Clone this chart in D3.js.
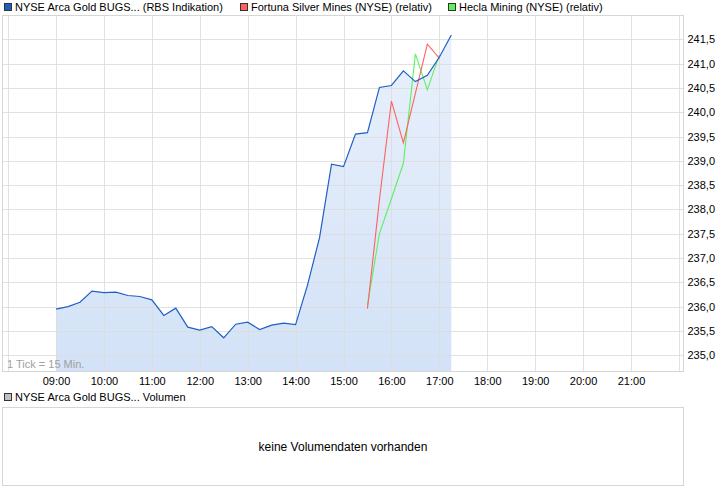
<!DOCTYPE html>
<html><head><meta charset="utf-8">
<script src="https://cdn.jsdelivr.net/npm/d3@7"></script>
<style>
html,body{margin:0;padding:0;background:#fff;}
svg{display:block;font-family:"Liberation Sans",Arial,sans-serif;}
</style></head>
<body><svg id="c" width="726" height="496"></svg>
<script>
// ---- data ----
const blueTimes = ["09:00","09:15","09:30","09:45","10:00","10:15","10:30","10:45","11:00","11:15","11:30","11:45",
  "12:00","12:15","12:30","12:45","13:00","13:15","13:30","13:45","14:00","14:15","14:30","14:45",
  "15:00","15:15","15:30","15:45","16:00","16:15","16:30","16:45","17:00","17:15"];
const blueValues = [235.95,236.00,236.09,236.32,236.29,236.30,236.23,236.21,236.14,235.82,235.97,235.58,
  235.52,235.59,235.36,235.64,235.68,235.53,235.62,235.66,235.63,236.45,237.42,238.93,
  238.88,239.55,239.58,240.51,240.55,240.85,240.63,240.76,241.13,241.59];
const relTimes = ["15:30","15:45","16:00","16:15","16:30","16:45","17:00"];
const redValues = [235.96,238.2,240.23,239.37,240.39,241.40,241.11];
const greenValues = [236.03,237.5,238.22,238.95,241.20,240.46,241.18];
const xTickLabels = ["09:00","10:00","11:00","12:00","13:00","14:00","15:00","16:00","17:00","18:00","19:00","20:00","21:00"];
const xGridHours = ["08:00","09:00","10:00","11:00","12:00","13:00","14:00","15:00","16:00","17:00","18:00","19:00","20:00","21:00","22:00"];
const yTicks = [235.0,235.5,236.0,236.5,237.0,237.5,238.0,238.5,239.0,239.5,240.0,240.5,241.0,241.5];
const legendLabels = ["NYSE Arca Gold BUGS... (RBS Indikation)","Fortuna Silver Mines (NYSE) (relativ)","Hecla Mining (NYSE) (relativ)"];
const volumeLegend = "NYSE Arca Gold BUGS... Volumen";
const volumeMessage = "keine Volumendaten vorhanden";
const tickNote = "1 Tick = 15 Min.";

// ---- helpers ----
const toMin = s => { const [h,m] = s.split(":").map(Number); return h*60+m; };

const svg = d3.select("#c");
const frame = {l:2.5, r:683.5, t:15.5, b:371.5};
const x = d3.scaleLinear().domain([toMin("08:00"), toMin("22:00")]).range([8.1, 678.9]);
const y = d3.scaleLinear().domain([235, 241.5]).range([355.3, 39.3]);
const gridColor = "#dcdcdc";

// gradient
const defs = svg.append("defs");
const grad = defs.append("linearGradient").attr("id","ag").attr("x1",0).attr("y1",0).attr("x2",0).attr("y2",1)
  .attr("gradientUnits","userSpaceOnUse").attr("y1",frame.t).attr("y2",frame.b).attr("x1",0).attr("x2",0);
grad.append("stop").attr("offset","0%").attr("stop-color","#eaf1fc");
grad.append("stop").attr("offset","100%").attr("stop-color","#d3e2f7");

// frame background
svg.append("rect").attr("x",frame.l).attr("y",frame.t).attr("width",frame.r-frame.l).attr("height",frame.b-frame.t)
  .attr("fill","#fff").attr("stroke","none");

const blue = blueTimes.map((t,i)=>({t:toMin(t), v:blueValues[i]}));
const red = relTimes.map((t,i)=>({t:toMin(t), v:redValues[i]}));
const green = relTimes.map((t,i)=>({t:toMin(t), v:greenValues[i]}));

// area
svg.append("path").datum(blue)
  .attr("d", d3.area().x(d=>x(d.t)).y0(frame.b).y1(d=>y(d.v)))
  .attr("fill","url(#ag)");

// vertical grid
const xGrid = svg.append("g").attr("transform",`translate(0,${frame.b})`)
  .call(d3.axisBottom(x).tickValues(xGridHours.map(toMin)).tickSize(-(frame.b-frame.t)).tickFormat(""));
xGrid.select(".domain").remove();
xGrid.selectAll("line").attr("stroke",gridColor).attr("stroke-opacity",0.85).attr("shape-rendering","crispEdges");

// horizontal grid
const yGrid = svg.append("g").attr("transform",`translate(${frame.r},0)`)
  .call(d3.axisLeft(y).tickValues(yTicks).tickSize(frame.r-frame.l).tickFormat(""));
yGrid.select(".domain").remove();
yGrid.selectAll("line").attr("stroke",gridColor).attr("stroke-opacity",0.85).attr("shape-rendering","crispEdges");

// frame border
svg.append("rect").attr("x",frame.l).attr("y",frame.t).attr("width",frame.r-frame.l).attr("height",frame.b-frame.t)
  .attr("fill","none").attr("stroke","#d6d6d6").attr("shape-rendering","crispEdges");

// lines
const line = d3.line().x(d=>x(d.t)).y(d=>y(d.v));
svg.append("path").datum(green).attr("d",line).attr("fill","none").attr("stroke","#5df05d").attr("stroke-width",1.1);
svg.append("path").datum(red).attr("d",line).attr("fill","none").attr("stroke","#ff6060").attr("stroke-width",1.1);
svg.append("path").datum(blue).attr("d",line).attr("fill","none").attr("stroke","#1f5fc4").attr("stroke-width",1.2);

// y labels
const yAx = svg.append("g").attr("transform",`translate(${frame.r+2},0)`)
  .call(d3.axisRight(y).tickValues(yTicks).tickSize(0).tickPadding(2)
    .tickFormat(d=>d3.format(".1f")(d).replace(".",",")));
yAx.select(".domain").remove();
yAx.selectAll("text").attr("font-size",11).attr("font-family","Liberation Sans, Arial, sans-serif").attr("fill","#000");

// x labels
const xAx = svg.append("g").attr("transform",`translate(0,${frame.b+3})`)
  .call(d3.axisBottom(x).tickValues(xTickLabels.map(toMin)).tickSize(0).tickPadding(3)
    .tickFormat((d,i)=>xTickLabels[i]));
xAx.select(".domain").remove();
xAx.selectAll("text").attr("font-size",11).attr("font-family","Liberation Sans, Arial, sans-serif").attr("fill","#000");

// tick note
svg.append("text").attr("x",7).attr("y",368).attr("font-size",11).attr("fill","#a0a0a0").text(tickNote);

// legend
const legColors = ["#1f5fc4","#ff6060","#5df05d"];
const legX = [4,240,448];
legendLabels.forEach((lab,i)=>{
  svg.append("rect").attr("x",legX[i]+0.5).attr("y",3.5).attr("width",7).attr("height",7)
    .attr("fill",legColors[i]).attr("stroke","#333").attr("shape-rendering","crispEdges");
  svg.append("text").attr("x",legX[i]+11).attr("y",11).attr("font-size",11).attr("fill","#000").text(lab);
});

// volume panel
svg.append("rect").attr("x",4.5).attr("y",393.5).attr("width",7).attr("height",7)
  .attr("fill","#c0c0c0").attr("stroke","#333").attr("shape-rendering","crispEdges");
svg.append("text").attr("x",15).attr("y",401).attr("font-size",11).attr("fill","#000").text(volumeLegend);
svg.append("rect").attr("x",frame.l).attr("y",407.5).attr("width",frame.r-frame.l).attr("height",78)
  .attr("fill","#fff").attr("stroke","#d6d6d6").attr("shape-rendering","crispEdges");
svg.append("text").attr("x",(frame.l+frame.r)/2).attr("y",451).attr("text-anchor","middle")
  .attr("font-size",12).attr("fill","#000").text(volumeMessage);
</script></body></html>
